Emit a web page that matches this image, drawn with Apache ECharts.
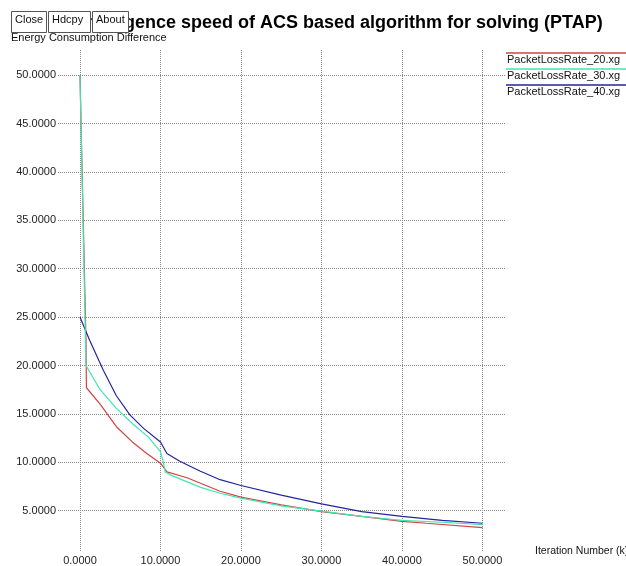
<!DOCTYPE html>
<html>
<head>
<meta charset="utf-8">
<script src="https://cdn.jsdelivr.net/npm/echarts@6/dist/echarts.min.js"></script>
<style>html,body{margin:0;padding:0;background:#fff;}#c{width:626px;height:566px;}</style>
</head>
<body>
<div id="c"></div>
<script>
const titleText = 'Convergence speed of ACS based algorithm for solving (PTAP)';
const yAxisName = 'Energy Consumption Difference';
const xAxisName = 'Iteration Number (k)';
const buttons = ['Close', 'Hdcpy', 'About'];
const xTicks = [0, 10, 20, 30, 40, 50];
const yTicks = [5, 10, 15, 20, 25, 30, 35, 40, 45, 50];
const seriesNames = ['PacketLossRate_20.xg', 'PacketLossRate_30.xg', 'PacketLossRate_40.xg'];
const seriesColors = ['#d04444', '#40e6b0', '#24249c'];

const loss20 = [[0,50],[0.75,22.4],[0.8,17.7],[2.5,16.0],[4.5,13.7],[6.5,12.1],[8.3,10.9],[10,9.9],[10.8,9.0],[13.3,8.4],[17.4,7.0],[20,6.4],[25,5.6],[30,4.9],[35,4.4],[40,3.9],[43,3.7],[50,3.25]];
const loss30 = [[0,50],[0.75,20],[2.5,17.5],[4.5,15.6],[6.5,14.0],[8.5,12.6],[10,11.1],[10.3,10.2],[10.6,9.0],[11.2,8.7],[15,7.4],[17.4,6.8],[20,6.3],[25,5.5],[30,4.95],[35,4.4],[40,4.0],[45,3.8],[50,3.55]];
const loss40 = [[0,25],[1.2,22.6],[2.9,19.5],[4.5,16.9],[6.2,14.9],[7.9,13.5],[10,12.1],[10.8,10.9],[12.4,10.1],[14.9,9.1],[17.4,8.2],[20,7.6],[25,6.6],[30,5.7],[35,4.9],[40,4.4],[45,4.0],[50,3.7]];
const seriesData = [loss20, loss30, loss40];

const chart = echarts.init(document.getElementById('c'), null, {renderer: 'canvas'});
const fmt = v => Number(v).toFixed(4);
const gridLine = {show: true, lineStyle: {color: '#8a8a8a', type: [1, 1], width: 1}};
const FONT = '"Liberation Sans", Arial, sans-serif';

const graphics = [];
const btnX = [11, 48, 92];
const btnW = [35, 42, 36];
buttons.forEach((b, i) => {
  graphics.push({type: 'rect', left: btnX[i], top: 11, z: 100,
    shape: {width: btnW[i], height: 21}, style: {fill: '#fff', stroke: '#555', lineWidth: 1}});
  graphics.push({type: 'text', left: btnX[i] + 4, top: 14, z: 101,
    style: {text: b, fill: '#111', font: '11px ' + FONT}});
});
graphics.push({type: 'text', left: 11, top: 32, z: 50,
  style: {text: yAxisName, fill: '#111', font: '11px ' + FONT}});
seriesNames.forEach((n, i) => {
  graphics.push({type: 'line', z: 50, shape: {x1: 506, y1: 53 + i * 16, x2: 626, y2: 53 + i * 16},
    style: {stroke: seriesColors[i], lineWidth: 1.5}});
  graphics.push({type: 'text', left: 507, top: 54 + i * 16, z: 50,
    style: {text: n, fill: '#111', font: '11px ' + FONT}});
});

chart.setOption({
  animation: false,
  backgroundColor: '#fff',
  title: {text: titleText, left: 57, top: 9,
    textStyle: {fontFamily: FONT, fontSize: 18, fontWeight: 'bold', color: '#000'}},
  grid: {left: 58, right: 121, top: 50, bottom: 15, containLabel: false, outerBoundsMode: 'none'},
  xAxis: {type: 'value', min: -2.73, max: 52.8,
    name: xAxisName, nameLocation: 'end', nameGap: 30,
    nameTextStyle: {fontFamily: FONT, fontSize: 10.5, color: '#111', align: 'left', verticalAlign: 'middle', padding: [0,0,6,0]},
    axisLine: {show: false},
    axisTick: {show: false, customValues: xTicks},
    axisLabel: {customValues: xTicks, formatter: fmt, margin: 4, color: '#222', fontFamily: FONT, fontSize: 11},
    splitLine: gridLine},
  yAxis: {type: 'value', min: 0.83, max: 52.6,
    axisLine: {show: false},
    axisTick: {show: false, customValues: yTicks},
    axisLabel: {customValues: yTicks, formatter: fmt, margin: 2, color: '#222', fontFamily: FONT, fontSize: 11},
    splitLine: gridLine},
  graphic: graphics,
  series: seriesData.map((d, i) => ({
    name: seriesNames[i], type: 'line', data: d, showSymbol: false, symbol: 'none',
    lineStyle: {color: seriesColors[i], width: 1.2}, itemStyle: {color: seriesColors[i]},
    z: i === 1 ? 4 : 3
  }))
});
</script>
</body>
</html>
